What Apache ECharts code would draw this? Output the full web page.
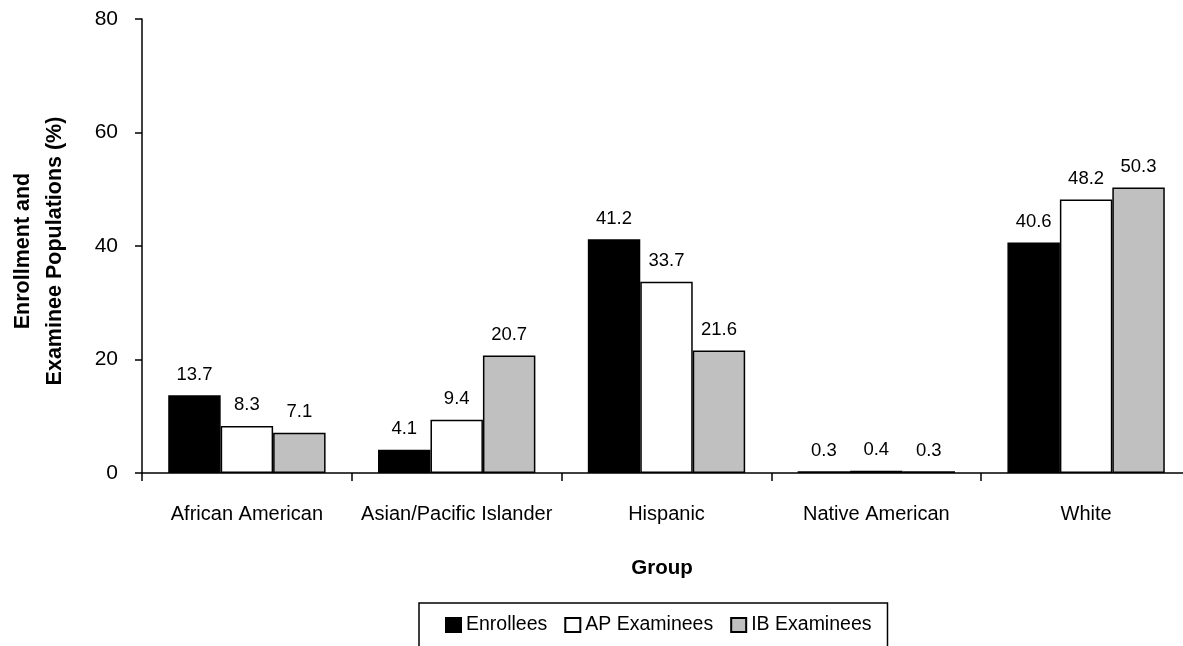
<!DOCTYPE html>
<html>
<head>
<meta charset="utf-8">
<script src="https://cdn.jsdelivr.net/npm/echarts@6/dist/echarts.min.js"></script>
<style>
html,body{margin:0;padding:0;background:#fff;}
#chart{width:1183px;height:646px;}
</style>
</head>
<body>
<div id="chart"></div>
<script>
var categories = ['African American', 'Asian/Pacific Islander', 'Hispanic', 'Native American', 'White'];
var enrollees = [13.7, 4.1, 41.2, 0.3, 40.6];
var apExaminees = [8.3, 9.4, 33.7, 0.4, 48.2];
var ibExaminees = [7.1, 20.7, 21.6, 0.3, 50.3];
var seriesNames = ['Enrollees', 'AP Examinees', 'IB Examinees'];
var yTicks = [0, 20, 40, 60, 80];

var FONT = '"Liberation Sans", Arial, sans-serif';
var chart = echarts.init(document.getElementById('chart'), null, {renderer: 'canvas'});

function mkSeries(name, data, color) {
  return {
    name: name,
    type: 'bar',
    data: data,
    barGap: '0%',
    barCategoryGap: '25%',
    itemStyle: {color: color, borderColor: '#000', borderWidth: 1.5},
    label: {
      show: true,
      position: 'top',
      distance: 11,
      color: '#000',
      fontFamily: FONT,
      fontSize: 18.5,
      formatter: function (p) { return p.value.toFixed(1); }
    }
  };
}

chart.setOption({
  animation: false,
  backgroundColor: '#fff',
  textStyle: {fontFamily: FONT},
  title: {
    text: 'Group',
    left: 657,
    top: 553,
    textAlign: 'center',
    textStyle: {fontFamily: FONT, fontSize: 20.5, fontWeight: 'bold', color: '#000'}
  },
  legend: {
    data: seriesNames,
    left: 419,
    top: 603,
    padding: [12, 16, 40, 26],
    itemGap: 17,
    itemWidth: 15,
    itemHeight: 14,
    borderColor: '#000',
    borderWidth: 1.5,
    icon: 'rect',
    textStyle: {fontFamily: FONT, fontSize: 19.5, color: '#000'}
  },
  grid: {left: 142, top: 19, bottom: 173, right: -8, containLabel: false, outerBoundsMode: 'none'},
  xAxis: {
    type: 'category',
    data: categories,
    axisLine: {show: true, lineStyle: {color: '#000', width: 1.5}},
    axisTick: {show: true, length: 8, inside: false, lineStyle: {color: '#000', width: 1.5}},
    axisLabel: {interval: 0, margin: 31, color: '#000', fontFamily: FONT, fontSize: 20},
    splitLine: {show: false}
  },
  yAxis: {
    type: 'value',
    min: yTicks[0],
    max: yTicks[yTicks.length - 1],
    interval: 20,
    name: 'Enrollment and\nExaminee Populations (%)',
    nameLocation: 'middle',
    nameRotate: 90,
    nameGap: 71,
    nameTextStyle: {fontFamily: FONT, fontSize: 21.5, fontWeight: 'bold', color: '#000', lineHeight: 32, padding: [0, 10, 0, 0]},
    axisLine: {show: true, lineStyle: {color: '#000', width: 1.5}},
    axisTick: {show: true, length: 7, inside: false, lineStyle: {color: '#000', width: 1.5}},
    axisLabel: {margin: 24, color: '#000', fontFamily: FONT, fontSize: 21},
    splitLine: {show: false}
  },
  series: [
    mkSeries(seriesNames[0], enrollees, '#000000'),
    mkSeries(seriesNames[1], apExaminees, '#ffffff'),
    mkSeries(seriesNames[2], ibExaminees, '#c0c0c0')
  ]
});
</script>
</body>
</html>
